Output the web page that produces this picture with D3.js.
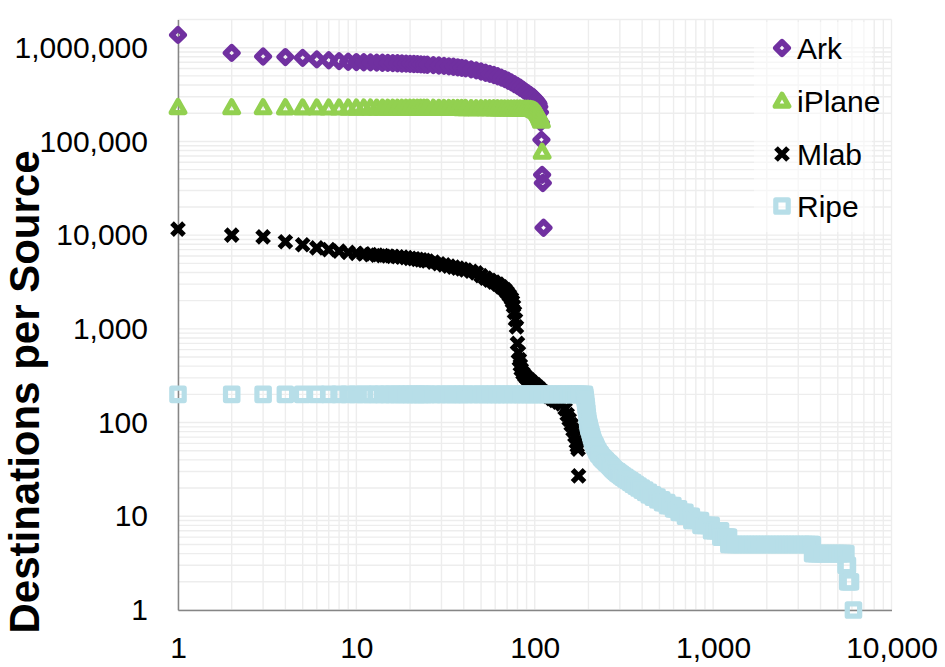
<!DOCTYPE html>
<html><head><meta charset="utf-8">
<script src="https://cdn.jsdelivr.net/npm/d3@7"></script>
<style>
html,body{margin:0;padding:0;background:#fff;}
svg{display:block;font-family:"Liberation Sans",Arial,Helvetica,sans-serif;}
</style>
</head><body>
<svg id="chart" width="945" height="667"></svg>
<script>
// ---------------- DATA ----------------
const seriesNames = ["Ark", "iPlane", "Mlab", "Ripe"];
const xTickValues = [1, 10, 100, 1000, 10000];
const yTickValues = [1, 10, 100, 1000, 10000, 100000, 1000000];
const yAxisTitle = "Destinations per Source";

// [rank, destinations]
const ark = [[1,1370000],[2,880000],[3,805000],[4,795000],[5,780000],[6,750000],[7,735000],[8,720000],[9,708000],[10,703000],
[11,700000],[12,697000],[13,694000],[14,691000],[15,688000],[16,685000],[17,682000],[18,679000],[19,676000],[20,673000],
[21,670000],[22,667000],[23,664000],[24,661000],[25,658000],[27,652000],[29,646000],[31,640000],[33,633000],[35,626000],
[37,618000],[39,610000],[41,601000],[44,588000],[47,573000],[50,557000],[53,541000],[56,526000],[59,511000],[62,496000],
[65,480000],[68,462000],[71,444000],[74,426000],[77,408000],[80,391000],[83,374000],[86,357000],[89,340000],[92,326000],
[95,312000],[98,298000],[100,288000],[102,276000],[104,262000],[105,252000],[106,235000],[107,205000],[108,160000],[109,104000],
[110,44000],[111,36000],[112,12000]];

const iplane = [[1,231000],[2,230000],[3,230000],[4,229500],[5,229000],[6,229000],[7,228500],[8,228500],[9,228000],[10,228000],
[11,228000],[12,228000],[13,227800],[14,227800],[15,227600],[16,227600],[17,227400],[18,227400],[19,227200],[20,227200],
[21,227000],[22,227000],[23,227000],[24,226800],[25,226800],[27,226600],[29,226400],[31,226200],[33,226000],[35,225800],
[37,225600],[39,225400],[41,225200],[44,225000],[47,224800],[50,224600],[53,224400],[56,224200],[59,224000],[62,223800],
[65,223600],[68,223400],[71,223200],[74,223000],[77,222800],[80,222600],[83,222400],[86,222200],[89,222000],[92,221500],
[95,220500],[98,218000],[100,214000],[102,208000],[104,200000],[105,195000],[106,188000],[107,180000],[108,172000],[109,165000],
[110,77000]];

const mlab = [[1,11600],[2,10000],[3,9600],[4,8500],[5,7900],[6,7300],[7,7000],[8,6750],[9,6550],[10,6400],
[11,6300],[12,6200],[13,6120],[14,6050],[15,5990],[16,5930],[17,5880],[18,5830],[19,5760],[20,5650],
[21,5600],[22,5520],[23,5450],[24,5380],[25,5300],[27,5150],[29,4950],[31,4820],[33,4680],[35,4560],
[37,4450],[39,4350],[41,4250],[44,4120],[47,3950],[50,3700],[53,3480],[56,3300],[59,3150],[62,3000],
[65,2800],[68,2620],[70,2450],[72,2280],[74,2100],[75,1950],[76,1750],[77,1500],[78,1250],[79,1050],
[80,700],[81,560],[82,470],[83,410],[84,370],[86,335],[88,315],[90,300],[93,285],[96,270],
[100,255],[104,238],[107,226],[111,212],[115,200],[120,190],[125,180],[130,172],[136,165],[142,158],
[148,140],[152,122],[156,108],[160,95],[164,83],[168,72],[171,62],[173,56],[175,52],[176,27]];

const ripe = [[1,200],[2,200],[3,200],[4,200],[5,200],[6,200],[7,200],[8,200],[9,200],[10,200],
[11,200],[12,200],[13,200],[14,200],[15,200],[16,200],[17,200],[18,200],[19,200],[20,200],
[21,200],[22,200],[23,200],[24,200],[25,200],[27,200],[29,200],[31,200],[33,200],[35,200],
[37,200],[39,200],[41,200],[44,200],[47,200],[50,200],[53,200],[56,200],[59,200],[62,200],
[65,200],[68,200],[72,200],[76,200],[80,200],[84,200],[88,200],[92,200],[96,200],[100,200],
[105,200],[110,200],[115,200],[120,200],[125,200],[130,200],[136,200],[142,200],[148,200],[154,200],
[160,200],[166,200],[172,200],[178,200],[184,200],[190,200],
[191,190],[192,178],[193,165],[194,152],[195,140],[196,128],[197,117],[198,108],[199,100],[200,95],
[201,91],[202,88],[204,82],[206,77],[208,72],[210,67],[212,63],[214,60],[216,58],[218,56],
[220,54],[222,52],[224,50],[226,49],[228,47],[230,46],[233,45],[236,43],[239,42],[242,41],
[245,40],[249,39],[252,38],[256,37],[260,36],[264,35],[268,34],[272,33],[276,32],[281,31],
[286,30],[289,30],[292,29],[296,29],[299,28],[303,28],[306,27],[311,27],[314,26],[321,26],
[324,25],[331,25],[334,24],[342,24],[345,23],[354,23],[357,22],[367,22],[370,21],[380,21],
[384,20],[396,20],[400,19],[414,19],[418,18],[434,18],[438,17],[448,17],[458,17],[462,16],
[474,16],[485,16],[490,15],[503,15],[515,15],[520,14],[535,14],[550,14],[555,13],[575,13],
[595,13],[600,12],[620,12],[640,12],[645,11],[670,11],[695,11],[700,10],[730,10],[755,10],
[760,9],[790,9],[820,9],[850,9],[855,8],[890,8],[930,8],[975,8],[980,7],[1020,7],
[1060,7],[1100,7],[1105,6],[1150,6],[1190,6],[1220,6],
[1225,5],[1275,5],[1325,5],[1380,5],[1435,5],[1495,5],[1555,5],[1620,5],[1685,5],[1750,5],
[1820,5],[1895,5],[1970,5],[2050,5],[2135,5],[2220,5],[2310,5],[2400,5],[2500,5],[2600,5],
[2700,5],[2810,5],[2925,5],[3040,5],[3165,5],[3290,5],[3420,5],[3560,5],[3600,5],
[3610,4],[3760,4],[3910,4],[4070,4],[4230,4],[4400,4],[4580,4],[4760,4],[4950,4],[5150,4],
[5360,4],[5550,4],
[5560,3],[5610,3],[5660,3],
[5680,2],[5780,2],[5890,2],
[6120,1]];

const seriesData = [ark, iplane, mlab, ripe];

// ---------------- STYLE ----------------
const colors = ["#7030A0", "#92D050", "#000000", "#B7DEE8"];
const shapes = [
  {d: "M0,-6.2L6.2,0L0,6.2L-6.2,0Z", sw: 5.6, join: "round", cap: "butt"},   // diamond
  {d: "M0,-6.8L6.8,5.2L-6.8,5.2Z", sw: 5.2, join: "round", cap: "butt"},     // triangle
  {d: "M-6,-6L6,6M-6,6L6,-6", sw: 5.2, join: "miter", cap: "butt"},          // x
  {d: "M-6.2,-6.2H6.2V6.2H-6.2Z", sw: 5.2, join: "round", cap: "butt"}       // square
];

const svg = d3.select("#chart");
const x = d3.scaleLog().domain([1, 10000]).range([178, 891.5]);
const y = d3.scaleLog().domain([1, 2000000]).range([610, 19.5]);

// gridlines
const grid = svg.append("g");
grid.selectAll("line.vx").data(x.ticks()).join("line")
  .attr("x1", d => x(d)).attr("x2", d => x(d))
  .attr("y1", y.range()[1]).attr("y2", y.range()[0])
  .attr("stroke", "#ededed").attr("stroke-width", 1.4);
grid.selectAll("line.hy").data(y.ticks()).join("line")
  .attr("x1", x.range()[0]).attr("x2", x.range()[1])
  .attr("y1", d => y(d)).attr("y2", d => y(d))
  .attr("stroke", "#ededed").attr("stroke-width", 1.4);

// legend background (semi-transparent)
svg.append("rect").attr("x", 754).attr("y", 22).attr("width", 118).attr("height", 210)
  .attr("fill", "#fff").attr("opacity", 0.5);

// axes
const fmt = d3.format(",");
const yAxis = svg.append("g").attr("transform", `translate(${x.range()[0]},0)`)
  .call(d3.axisLeft(y).tickValues(yTickValues).tickFormat(fmt).tickSizeInner(0).tickSizeOuter(0).tickPadding(30));
const xAxis = svg.append("g").attr("transform", `translate(0,${y.range()[0]})`)
  .call(d3.axisBottom(x).tickValues(xTickValues).tickFormat(fmt).tickSizeInner(0).tickSizeOuter(0).tickPadding(27));
[xAxis, yAxis].forEach(a => {
  a.select(".domain").attr("stroke", "#868686").attr("stroke-width", 1.5);
  a.selectAll("text").attr("font-size", 30).attr("fill", "#000")
    .attr("font-family", '"Liberation Sans", Arial, sans-serif');
});

// y axis title
svg.append("text")
  .attr("transform", "translate(39,392) rotate(-90)")
  .attr("text-anchor", "middle")
  .attr("font-size", 42).attr("font-weight", "bold").attr("fill", "#000")
  .text(yAxisTitle);

// series
seriesData.forEach((data, i) => {
  const s = shapes[i];
  svg.append("g").selectAll("path").data(data).join("path")
    .attr("transform", d => `translate(${x(d[0])},${y(d[1])})`)
    .attr("d", s.d)
    .attr("fill", "none")
    .attr("stroke", colors[i])
    .attr("stroke-width", s.sw)
    .attr("stroke-linejoin", s.join)
    .attr("stroke-linecap", s.cap);
});

// legend
const legendRowsY = [48, 101, 154, 206];
const lg = svg.append("g");
seriesNames.forEach((name, i) => {
  const s = shapes[i];
  lg.append("path")
    .attr("transform", `translate(782,${legendRowsY[i]})`)
    .attr("d", s.d).attr("fill", "none").attr("stroke", colors[i])
    .attr("stroke-width", s.sw).attr("stroke-linejoin", s.join).attr("stroke-linecap", s.cap);
  lg.append("text").attr("x", 797).attr("y", legendRowsY[i] + 11)
    .attr("font-size", 30).attr("fill", "#000").text(name);
});
</script>
</body></html>
